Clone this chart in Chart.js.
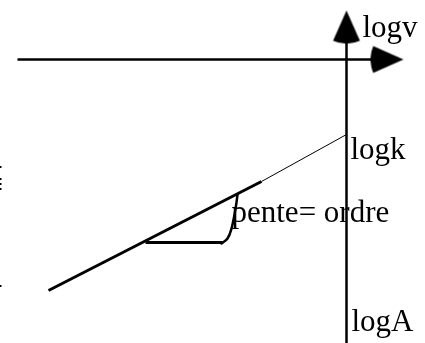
<!DOCTYPE html>
<html>
<head>
<meta charset="utf-8">
<script src="https://cdn.jsdelivr.net/npm/chart.js@4"></script>
<style>
  html, body { margin: 0; padding: 0; background: #fff; }
  #wrap { width: 425px; height: 343px; position: relative; }
</style>
</head>
<body>
<div id="wrap"><canvas id="rateChart"></canvas></div>
<script>
// axes cross at the origin, units are roughly one pixel each
const xAxisLine = [{ x: -329, y: 0 }, { x: 30, y: 0 }];
const yAxisLine = [{ x: 0, y: -284 }, { x: 0, y: 20 }];
const xArrowTip = [{ x: 57, y: 0 }];
const yArrowTip = [{ x: 0, y: 49 }];

// log v = log k + ordre * log A
const fitSolid = [{ x: -298, y: -231 }, { x: -85, y: -122 }];
const fitExtended = [{ x: -85, y: -122 }, { x: 0, y: -75 }];

// slope triangle
const slopeBase = [{ x: -201, y: -183 }, { x: -124, y: -183 }];
const slopeArc = [
  { x: -125, y: -184 }, { x: -119, y: -179 }, { x: -115, y: -169 },
  { x: -112, y: -155 }, { x: -110, y: -143 }, { x: -109, y: -135 }
];

// stray bits left on the left margin
const edgeBits = [
  { x: -346, y: -107.5 }, { x: -346, y: -119.5 }, { x: -346, y: -124.5 },
  { x: -346, y: -129.5 }, { x: -346, y: -226.5 }
];

const textLabels = ["logv", "logk", "pente= ordre", "logA"];
const textX = [16, 4, -115, 5];
const textY = [23, -99, -162, -271];

// arrow head drawn once, tip in the middle of the canvas, pointing up
function makeArrowHead(len, halfAngleDeg) {
  const size = len * 2 + 4;
  const c = document.createElement("canvas");
  c.width = size; c.height = size;
  const g = c.getContext("2d");
  const cx = size / 2, cy = size / 2;
  const a = halfAngleDeg * Math.PI / 180;
  g.fillStyle = "#000";
  g.beginPath();
  g.moveTo(cx, cy);
  g.arc(cx, cy, len, Math.PI / 2 - a, Math.PI / 2 + a);
  g.closePath();
  g.fill();
  return c;
}
const arrowHead = makeArrowHead(33, 24);

function segment(data, width, extra) {
  return Object.assign({
    data: data,
    showLine: true,
    borderColor: "#000",
    borderWidth: width,
    pointRadius: 0,
    pointHoverRadius: 0,
    borderCapStyle: "butt",
    fill: false
  }, extra || {});
}

function arrow(data, rotation) {
  return {
    data: data,
    showLine: false,
    pointStyle: arrowHead,
    pointRadius: 1,
    pointHoverRadius: 1,
    rotation: rotation,
    borderWidth: 0,
    backgroundColor: "#000"
  };
}

const textPlugin = {
  id: "freeText",
  afterDatasetsDraw(chart) {
    const ctx = chart.ctx;
    const xs = chart.scales.x, ys = chart.scales.y;
    ctx.save();
    ctx.font = '31px "Liberation Serif", "Times New Roman", serif';
    ctx.fillStyle = "#000";
    ctx.textAlign = "left";
    ctx.textBaseline = "alphabetic";
    textLabels.forEach((t, i) => {
      ctx.fillText(t, xs.getPixelForValue(textX[i]), ys.getPixelForValue(textY[i]));
    });
    ctx.restore();
  }
};

new Chart(document.getElementById("rateChart"), {
  type: "scatter",
  data: {
    datasets: [
      arrow(yArrowTip, 0),
      arrow(xArrowTip, 90),
      segment(xAxisLine, 2.5),
      segment(yAxisLine, 2.5),
      segment(fitSolid, 3),
      segment(fitExtended, 1),
      segment(slopeBase, 3),
      segment(slopeArc, 2.5, { tension: 0.4, borderCapStyle: "round" }),
      {
        data: edgeBits,
        showLine: false,
        pointStyle: "rect",
        pointRadius: 1.4,
        pointHoverRadius: 1.4,
        borderWidth: 0,
        backgroundColor: "#000"
      }
    ]
  },
  options: {
    responsive: true,
    maintainAspectRatio: false,
    animation: false,
    devicePixelRatio: 1,
    layout: { padding: 0, autoPadding: false },
    plugins: {
      legend: { display: false },
      tooltip: { enabled: false }
    },
    scales: {
      x: { type: "linear", min: -346.5, max: 78.5, display: false },
      y: { type: "linear", min: -283.5, max: 59.5, display: false }
    }
  },
  plugins: [textPlugin]
});
</script>
</body>
</html>
